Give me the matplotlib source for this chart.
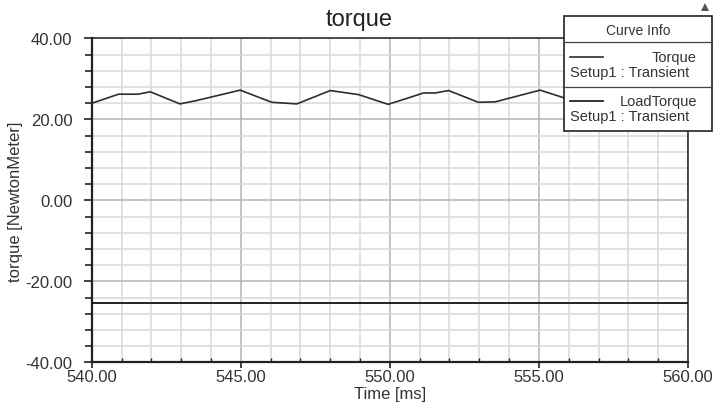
import matplotlib
matplotlib.use('Agg')
import matplotlib.pyplot as plt
from matplotlib.patches import Rectangle, Polygon
from matplotlib.lines import Line2D
from matplotlib.ticker import MultipleLocator, FormatStrFormatter

plt.rcParams['font.family'] = ['Liberation Sans', 'DejaVu Sans']

W, H = 719, 406

# data
time_ms = [540.0, 540.9, 541.56, 541.96, 542.96, 543.5, 544.98, 546.04, 546.88,
           548.0, 548.95, 549.94, 550.5, 551.13, 551.52, 551.97, 552.97, 553.53,
           555.04, 555.8, 556.9, 558.0, 559.0, 560.0]
torque_nm = [23.95, 26.2, 26.2, 26.8, 23.8, 24.6, 27.2, 24.2, 23.8,
             27.1, 26.1, 23.7, 25.0, 26.5, 26.5, 27.1, 24.2, 24.3,
             27.2, 25.4, 23.8, 27.0, 26.1, 23.8]
load_time_ms = [540.0, 560.0]
load_torque_nm = [-25.4, -25.4]

series_names = ['Torque', 'LoadTorque']
series_setup = ['Setup1 : Transient', 'Setup1 : Transient']
series_colors = ['#2e2e2e', '#111111']

x_ticks = [540.0, 545.0, 550.0, 555.0, 560.0]
y_ticks = [-40.0, -20.0, 0.0, 20.0, 40.0]


def fx(px):
    return px / W


def fy(py):
    return 1 - py / H


fig = plt.figure(figsize=(W / 100, H / 100), dpi=100)
ax = fig.add_axes([fx(91.7), fy(363.3), fx(688) - fx(91.7), fy(39.3) - fy(363.3)])

ax.plot(time_ms, torque_nm, color=series_colors[0], lw=1.2, zorder=3)
ax.plot(load_time_ms, load_torque_nm, color=series_colors[1], lw=1.3, zorder=3)

ax.set_xlim(x_ticks[0], x_ticks[-1])
ax.set_ylim(y_ticks[0], y_ticks[-1])
ax.set_xticks(x_ticks)
ax.set_yticks(y_ticks)
ax.xaxis.set_minor_locator(MultipleLocator(1))
ax.yaxis.set_minor_locator(MultipleLocator(4))
ax.xaxis.set_major_formatter(FormatStrFormatter('%.2f'))
ax.yaxis.set_major_formatter(FormatStrFormatter('%.2f'))

ax.grid(which='minor', color='#d8d8d8', lw=1.1, zorder=0)
ax.grid(which='major', color='#b4b4b4', lw=1.1, zorder=1)
ax.set_axisbelow(True)

ax.tick_params(axis='y', which='major', direction='out', length=6, width=1.2,
               pad=8, labelsize=12, colors='#222222', labelcolor='#333333')
ax.tick_params(axis='y', which='minor', direction='out', length=5, width=1.2,
               colors='#222222')
ax.tick_params(axis='x', which='major', direction='out', length=4, width=1.2,
               pad=1, labelsize=12, colors='#222222', labelcolor='#333333')
ax.tick_params(axis='x', which='minor', direction='in', length=3, width=1.0,
               colors='#222222')

for side, lw in [('left', 1.6), ('bottom', 1.6), ('top', 1.1), ('right', 1.1)]:
    ax.spines[side].set_linewidth(lw)
    ax.spines[side].set_color('#222222')

# axis titles
fig.text(fx(390), fy(395), 'Time [ms]', ha='center', va='center', fontsize=12,
         color='#333333')
fig.text(fx(16), fy(202), 'torque [NewtonMeter]', rotation=90, ha='center',
         va='center', fontsize=12, color='#333333')
fig.text(0.5, fy(20), 'torque', ha='center', va='center', fontsize=17,
         color='#222222')

# legend box "Curve Info"
lx0, lx1, ly0, ly1 = 564, 712, 17, 132
fig.patches.append(Rectangle((fx(lx0), fy(ly1)), fx(lx1) - fx(lx0), fy(ly0) - fy(ly1),
                             transform=fig.transFigure, facecolor='white',
                             edgecolor='#222222', lw=1.2, zorder=10))
for py in [43.3, 88.3]:
    fig.lines.append(Line2D([fx(lx0), fx(lx1)], [fy(py), fy(py)],
                            transform=fig.transFigure, color='#444444', lw=0.9, zorder=11))
fig.text(fx(638), fy(31), 'Curve Info', ha='center', va='center', fontsize=10,
         color='#333333', zorder=12)
for i, (name, setup, col) in enumerate(zip(series_names, series_setup, series_colors)):
    row_y = 58.3 + i * 43.5
    fig.lines.append(Line2D([fx(570), fx(603)], [fy(row_y), fy(row_y)],
                            transform=fig.transFigure, color=col, lw=1.2, zorder=12))
    fig.text(fx(697), fy(row_y), name, ha='right', va='center', fontsize=10.5,
             color='#333333', zorder=12)
    fig.text(fx(570), fy(row_y + 15), setup, ha='left', va='center', fontsize=10.5,
             color='#333333', zorder=12)

# small marker at the legend corner
fig.patches.append(Polygon([(fx(701), fy(12)), (fx(709), fy(12)), (fx(705), fy(4))],
                           closed=True, transform=fig.transFigure,
                           facecolor='#555555', edgecolor='none', zorder=12))

fig.savefig('out.png', dpi=100)
